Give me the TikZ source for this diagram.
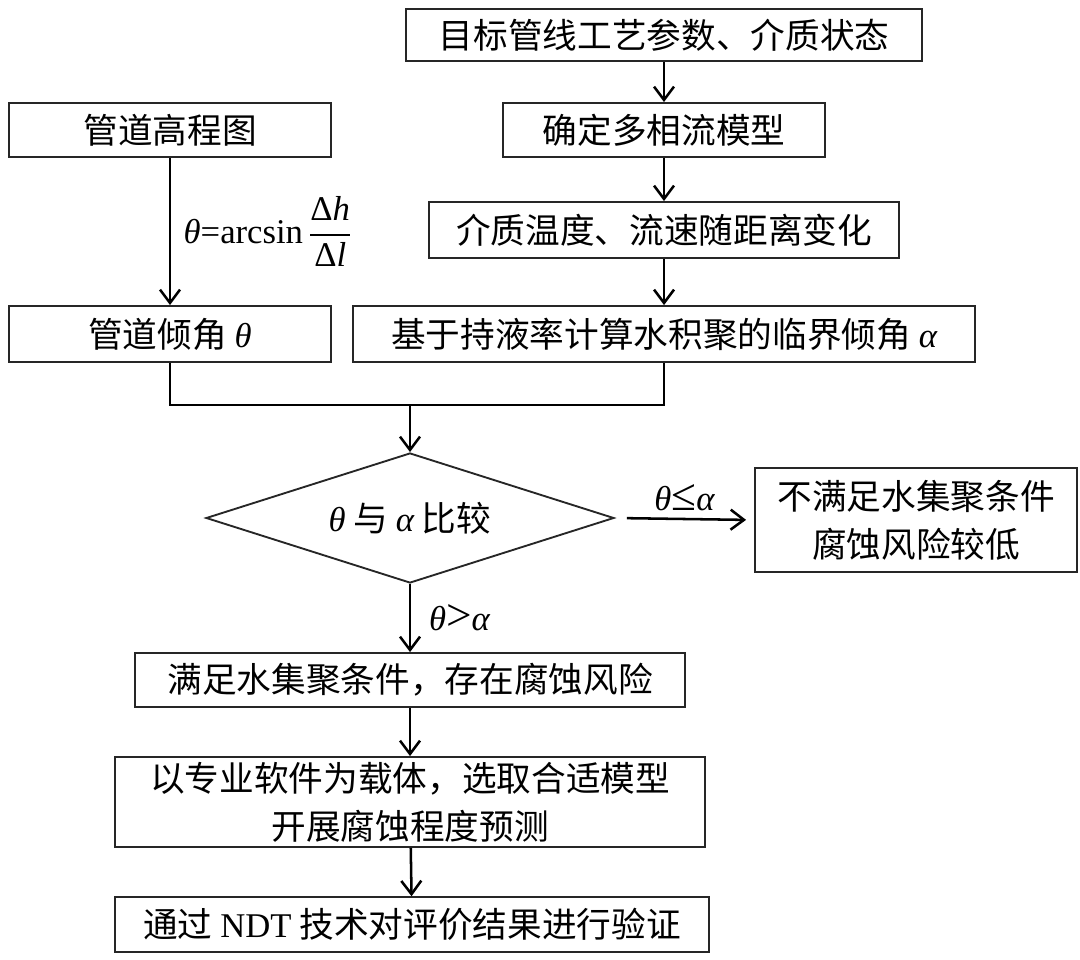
\documentclass[tikz,border=0pt]{standalone}
\usepackage{amsmath}
\usepackage{fontspec}
\setmainfont{Noto Sans CJK SC}
\newfontfamily\latin{Liberation Serif}
\newcommand{\thv}{{\latin\itshape θ}}
\newcommand{\alv}{{\latin\itshape α}}
\newcommand{\bigrel}[1]{{\latin\fontsize{34}{36}\selectfont #1}}
\usetikzlibrary{shapes.geometric,arrows.meta}

\begin{document}
\begin{tikzpicture}[x=0.75pt, y=-0.75pt,
    font=\fontsize{26}{36}\selectfont,
    box/.style={rectangle, draw=black!85, line width=1.4pt, inner sep=0pt, align=center},
    >={Straight Barb[length=10pt,width=15pt]},
    every path/.append style={line width=1.9pt}]
    \useasboundingbox (0,0) rectangle (1080,959);

    \node (target) [box, minimum width=387pt, minimum height=39pt] at (664,35) {目标管线工艺参数、介质状态};
    \node (model) [box, minimum width=242pt, minimum height=40.5pt] at (664,130) {确定多相流模型};
    \node (elev) [box, minimum width=242pt, minimum height=40.5pt] at (170,130) {管道高程图};
    \node (temp) [box, minimum width=353pt, minimum height=42pt] at (664,230) {介质温度、流速随距离变化};
    \node (crit) [box, minimum width=467pt, minimum height=42pt] at (664,334) {基于持液率计算水积聚的临界倾角 \alv};
    \node (incl) [box, minimum width=242pt, minimum height=42pt] at (170,334) {管道倾角 \thv};
    \node (cmp) [diamond, draw=black!85, line width=1.4pt, inner sep=0pt, aspect=3.1,
        minimum width=306pt, minimum height=97.5pt] at (410,518) {\thv\ 与 \alv\ 比较};
    \node (low) [box, minimum width=241.5pt, minimum height=78pt] at (916,520) {不满足水集聚条件\\腐蚀风险较低};
    \node (risk) [box, minimum width=413pt, minimum height=40.5pt] at (410,680) {满足水集聚条件，存在腐蚀风险};
    \node (pred) [box, minimum width=443pt, minimum height=67.5pt] at (410,802) {以专业软件为载体，选取合适模型\\开展腐蚀程度预测};
    \node (ndt) [box, minimum width=446pt, minimum height=41pt] at (412,924.5) {通过 {\latin NDT} 技术对评价结果进行验证};
    \coordinate (join) at (410,405);

    \draw[->] (target) -- (model);
    \draw[->] (model) -- (temp);
    \draw[->] (temp) -- (crit);
    \draw[->] (elev) -- node[right=6pt] {\thv{\latin =arcsin\,}$\dfrac{\text{\latin Δ\textit{h}}}{\text{\latin Δ\textit{l}}}$} (incl);
    \draw (incl.south) |- (join) -| (crit.south);
    \draw[->] (join) -- (cmp.north);
    \draw[->, shorten <=9pt, shorten >=6pt] (cmp.east) -- node[above=2pt] {\thv\bigrel{≤}\alv} (low.west);
    \draw[->] (cmp.south) -- node[right=10pt] {\thv\bigrel{>}\alv} (risk.north);
    \draw[->] (risk) -- (pred);
    \draw[->] (pred) -- (ndt);
\end{tikzpicture}
\end{document}
